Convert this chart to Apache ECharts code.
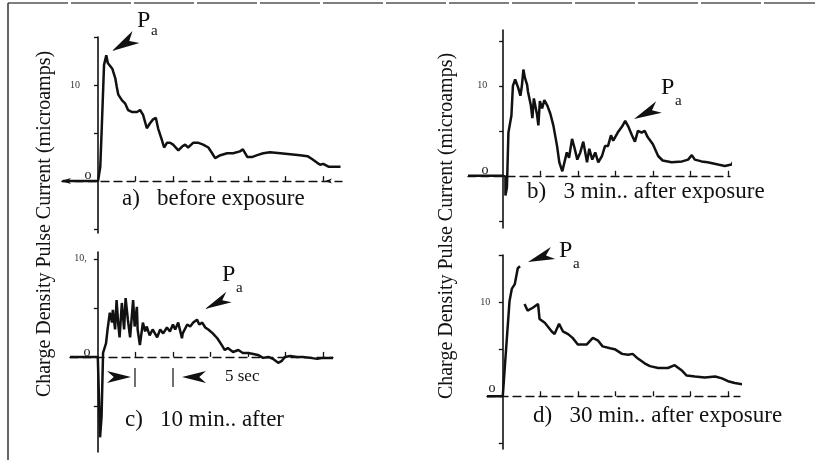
<!DOCTYPE html>
<html>
<head>
<meta charset="utf-8">
<script src="https://cdn.jsdelivr.net/npm/echarts@6/dist/echarts.min.js"></script>
<style>
  html, body { margin: 0; padding: 0; background: #fff; }
  #main { width: 815px; height: 460px; }
</style>
</head>
<body>
<div id="main"></div>
<script>
// time (s) / current (microamps)
var traceA = [[-4.7,0],[0,0],[0.3,1.5],[0.5,5.6],[0.8,12.1],[1.1,13.1],[1.3,12.3],[1.9,11.7],[2.3,10.7],[2.5,9.8],[2.7,9.0],[3.2,8.4],[3.6,8.1],[4.0,7.4],[4.5,7.2],[5.2,7.2],[5.6,7.4],[6.0,6.9],[6.5,5.5],[6.9,6.0],[7.3,6.4],[7.7,6.6],[8.0,5.5],[8.5,4.3],[8.8,3.5],[9.2,4.0],[9.6,4.0],[10.0,3.8],[10.7,3.2],[11.2,3.6],[11.6,3.8],[12.0,3.5],[12.7,4.0],[13.3,4.0],[14.0,3.8],[14.7,3.5],[15.2,2.9],[15.6,2.4],[16.3,2.7],[17.2,2.9],[18.0,2.9],[18.9,3.1],[19.3,3.3],[19.9,2.5],[20.5,2.5],[21.2,2.7],[22.0,2.9],[22.9,3.0],[24.3,2.9],[25.6,2.8],[26.9,2.7],[27.9,2.6],[28.5,2.3],[29.2,1.9],[29.6,1.7],[30.0,1.8],[30.7,1.5],[32.3,1.5]];

var traceB = [[-4.7,0],[0,0],[0.3,-0.1],[0.3,-2.2],[0.5,-1.3],[0.7,4.8],[1.1,6.7],[1.3,10.0],[1.6,10.7],[2.0,9.8],[2.3,8.9],[2.5,10.0],[2.7,11.8],[2.9,10.9],[3.2,10.1],[3.3,9.4],[3.7,7.8],[3.9,6.4],[4.1,8.6],[4.5,6.9],[4.7,5.6],[4.9,8.3],[5.2,7.5],[5.5,8.4],[5.9,7.8],[6.3,6.9],[6.7,5.6],[7.2,3.3],[7.5,1.5],[7.9,0.5],[8.1,0.7],[8.5,2.6],[8.8,2.0],[9.2,4.1],[9.5,3.2],[9.9,1.8],[10.3,2.6],[10.7,3.8],[11.2,1.5],[11.5,3.0],[11.9,1.8],[12.3,2.6],[12.7,1.5],[13.2,2.2],[13.6,3.3],[14.0,3.3],[14.4,4.5],[14.7,3.9],[15.3,4.8],[15.9,5.5],[16.3,6.1],[16.7,5.5],[17.2,4.5],[17.6,3.8],[18.0,5.0],[18.5,4.8],[18.9,5.0],[19.3,4.3],[20.0,3.5],[20.7,2.2],[21.3,1.7],[22.5,1.5],[23.9,1.6],[24.7,1.8],[25.2,2.3],[25.6,1.8],[26.5,1.6],[27.3,1.5],[28.7,1.25],[29.6,1.1],[30.5,1.25],[30.9,1.8],[31.3,2.2],[32.7,2.0]];

var traceC = [[-3.7,0],[0,0],[0.3,-8.2],[0.5,-6.1],[0.7,0.4],[1.1,1.4],[1.3,2.8],[1.6,4.5],[1.9,3.5],[2.0,4.8],[2.3,2.8],[2.5,5.8],[2.7,3.5],[2.9,2.0],[3.2,5.5],[3.5,2.8],[3.7,6.0],[4.0,3.8],[4.3,2.0],[4.7,5.8],[4.9,3.1],[5.2,5.1],[5.3,2.8],[5.6,1.2],[6.0,3.5],[6.3,2.6],[6.5,3.1],[6.9,2.2],[7.3,2.8],[7.9,2.0],[8.3,2.8],[8.7,2.4],[9.2,3.0],[9.6,2.6],[10.0,3.3],[10.3,2.8],[10.7,3.5],[11.2,1.9],[11.3,2.4],[11.9,3.3],[12.3,3.1],[12.7,3.5],[13.2,3.8],[13.5,3.3],[13.9,3.5],[14.3,3.0],[14.7,2.8],[15.3,2.4],[15.9,1.9],[16.5,1.2],[16.9,0.7],[17.3,0.9],[18.0,0.5],[18.7,0.7],[19.3,0.4],[20.0,0.4],[20.7,0.3],[21.3,0.2],[22.0,-0.1],[22.7,0.0],[23.3,-0.2],[24.0,-0.6],[24.5,-0.4],[24.9,0.0],[25.6,0.1],[26.5,0.0],[27.3,0.0],[28.3,-0.1],[29.2,-0.2],[30.0,-0.1],[31.3,-0.1]];

var traceDRise = [[-2.1,0],[0,0],[0.3,3.4],[0.9,10.1],[1.2,11.4],[1.6,11.9],[2.0,13.6],[2.3,13.8]];
var traceDDecay = [[2.9,9.8],[3.3,9.1],[4.0,9.4],[4.7,9.8],[4.9,8.2],[5.6,7.8],[6.5,6.9],[6.9,6.6],[7.5,7.7],[8.0,6.9],[8.7,6.6],[9.3,6.2],[10.0,5.5],[11.2,5.5],[12.0,6.2],[12.7,5.9],[13.3,5.3],[14.3,5.1],[14.9,5.0],[15.9,4.5],[16.7,4.4],[17.3,4.5],[18.0,4.0],[18.9,3.5],[19.6,3.2],[20.7,3.0],[22.0,3.0],[22.9,3.3],[23.9,2.7],[24.5,2.2],[25.6,2.1],[26.9,2.0],[28.3,2.1],[29.2,1.9],[30.0,1.6],[30.9,1.4],[32.5,1.2]];

var timeTicks = [5, 10, 15, 20, 25, 30];
var currentTicks = [-5, 5, 10, 15];
var currentLabels = [10];

var serif = '"Liberation Serif", "DejaVu Serif", serif';
var ink = '#111';

// panel layout: x/y axis ranges and grid box, plus label offsets
var panels = [
  { xMin: -4.8, xMax: 32.5, yMin: -5.4, yMax: 15,   left: 62,  top: 37,  width: 280, height: 196, lab: '10',  labGap: 18 },
  { xMin: -4.7, xMax: 30.3, yMin: -5.8, yMax: 16.2, left: 468, top: 30,  width: 262, height: 198, lab: '10',  labGap: 16 },
  { xMin: -3.7, xMax: 31.3, yMin: -9.7, yMax: 10.7, left: 70,  top: 252, width: 263, height: 200, lab: '10,', labGap: 11 },
  { xMin: -2.1, xMax: 31.6, yMin: -5.6, yMax: 15,   left: 487, top: 255, width: 253, height: 194, lab: '10 ', labGap: 10 }
];

var grids = [], xAxes = [], yAxes = [];
panels.forEach(function (p, i) {
  grids.push({ left: p.left, top: p.top, width: p.width, height: p.height });
  xAxes.push({
    type: 'value', gridIndex: i, min: p.xMin, max: p.xMax,
    axisLine: { onZero: true, lineStyle: { color: ink, width: 1.3, type: [8, 5] } },
    axisTick: { show: true, inside: true, length: 5, customValues: timeTicks, lineStyle: { color: ink, width: 1.3 } },
    axisLabel: { show: false },
    splitLine: { show: false }
  });
  yAxes.push({
    type: 'value', gridIndex: i, min: p.yMin, max: p.yMax,
    axisLine: { onZero: true, lineStyle: { color: ink, width: 1.6 } },
    axisTick: { show: true, length: 4, customValues: currentTicks, lineStyle: { color: ink, width: 1.3 } },
    axisLabel: { show: false },
    splitLine: { show: false }
  });
});

function trace(data, i) {
  return {
    type: 'line', xAxisIndex: i, yAxisIndex: i, data: data,
    showSymbol: false, clip: false, animation: false,
    lineStyle: { color: ink, width: 2.5 }
  };
}

// arrowhead polygon from tip towards tail
function arrow(tx, ty, bx, by, w) {
  var dx = bx - tx, dy = by - ty;
  var len = Math.sqrt(dx * dx + dy * dy);
  var ux = dx / len, uy = dy / len, nx = -uy, ny = ux;
  return {
    type: 'polygon',
    shape: { points: [
      [tx, ty],
      [bx + nx * w / 2, by + ny * w / 2],
      [tx + ux * len * 0.72, ty + uy * len * 0.72],
      [bx - nx * w / 2, by - ny * w / 2]
    ] },
    style: { fill: ink }
  };
}

function txt(s, x, y, size, align, rot) {
  return {
    type: 'text', x: x, y: y, rotation: rot || 0,
    style: { text: s, fontSize: size, fontFamily: serif, fill: ink,
      align: align || 'left', textAlign: align || 'left',
      verticalAlign: 'middle', textVerticalAlign: 'middle' }
  };
}

function seg(x1, y1, x2, y2, w, dash, color) {
  return { type: 'line', shape: { x1: x1, y1: y1, x2: x2, y2: y2 },
    style: { stroke: color || ink, lineWidth: w, lineDash: dash || null } };
}

var chart = echarts.init(document.getElementById('main'));
chart.setOption({
  animation: false,
  backgroundColor: '#fff',
  grid: grids,
  xAxis: xAxes,
  yAxis: yAxes,
  series: [
    trace(traceA, 0),
    trace(traceB, 1),
    trace(traceC, 2),
    trace(traceDRise, 3),
    trace(traceDDecay, 3)
  ]
});

var title = 'Charge Density Pulse Current (microamps)';

var graphics = [
  seg(8, 3, 815, 3, 1.4, [60, 3], '#555'),
  seg(8, 3, 8, 460, 1.5, null, '#333'),
  txt(title, 45, 224, 20, 'center', Math.PI / 2),
  txt(title, 447, 226, 20, 'center', Math.PI / 2),
  txt('a)   before exposure', 122, 199, 23),
  txt('b)   3 min.. after exposure', 527, 192, 23),
  txt('c)   10 min.. after', 125, 420, 23),
  txt('d)   30 min.. after exposure', 533, 416, 23),
  // zero marks
  txt('o', 88, 175, 14, 'center'),
  txt('o', 485, 170, 14, 'center'),
  txt('o', 87, 352, 14, 'center'),
  txt('o', 492, 388, 14, 'center'),
  // small end arrows on the baseline of a)
  arrow(61, 181, 71, 181, 6),
  arrow(325, 181, 332, 181, 5),
  // peak labels
  arrow(112, 51, 136, 37, 14), txt('P', 137, 21, 24), txt('a', 151, 31, 15),
  arrow(634, 119, 659, 107, 13), txt('P', 661, 88, 24), txt('a', 675, 101, 15),
  arrow(205, 309, 229, 297, 12), txt('P', 222, 275, 24), txt('a', 236, 288, 15),
  arrow(528, 262, 553, 253, 13), txt('P', 559, 251, 24), txt('a', 573, 264, 15),
  // 5 sec marker
  seg(135, 368, 135, 387, 1.2), seg(173, 368, 173, 387, 1.2),
  arrow(131, 377, 107, 377, 12), arrow(182, 377, 206, 377, 12),
  txt('5 sec', 225, 377, 17)
];

// "10" tick labels placed at the y axis through the chart's own scale
panels.forEach(function (p, i) {
  currentLabels.forEach(function (v) {
    var pt = chart.convertToPixel({ gridIndex: i }, [0, v]);
    graphics.push({
      type: 'text', x: pt[0] - p.labGap, y: pt[1],
      style: { text: p.lab, fontSize: 10, fontFamily: serif, fill: '#333',
        align: 'right', textAlign: 'right', verticalAlign: 'middle', textVerticalAlign: 'middle' }
    });
  });
});

chart.setOption({ graphic: graphics });
</script>
</body>
</html>
